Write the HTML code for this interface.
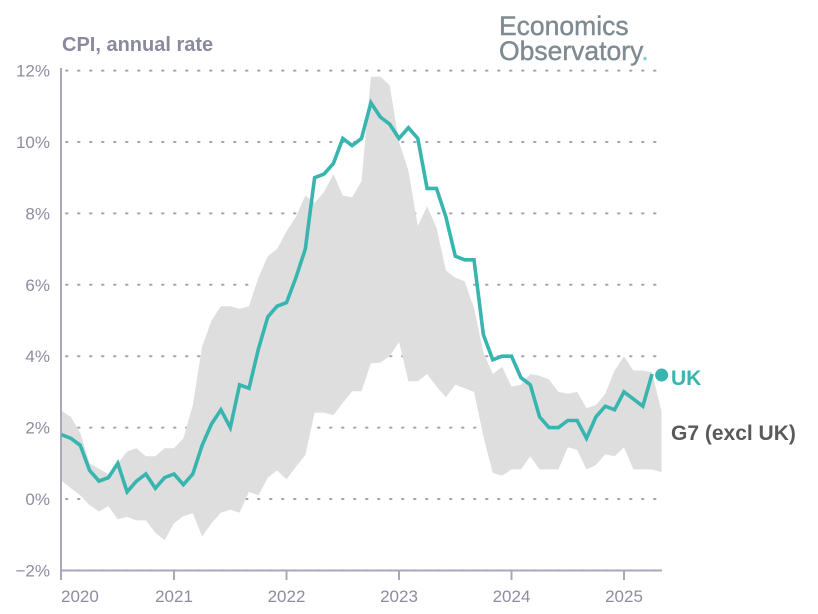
<!DOCTYPE html>
<html><head><meta charset="utf-8"><style>
html,body{margin:0;padding:0;background:#fff;}
svg{display:block;font-family:"Liberation Sans",sans-serif;}
</style></head><body>
<svg id="chart" width="818" height="614" viewBox="0 0 818 614">
<text x="62" y="51" font-size="20" font-weight="bold" fill="#8a899e">CPI, annual rate</text>
<g fill="#7f8b91" font-size="26.5">
<text x="499" y="35" stroke="#7f8b91" stroke-width="0.4">Economics</text>
<text x="499" y="60" stroke="#7f8b91" stroke-width="0.4">Observatory<tspan fill="#7ecbe0" stroke="#7ecbe0">.</tspan></text>
</g>
<g id="grid"></g>
<g id="band"></g>
<g id="axes"></g>
<g id="series"></g>
<text x="671" y="385" font-size="21" font-weight="bold" fill="#37b5ae">UK</text>
<text x="671" y="440" font-size="21" font-weight="bold" fill="#5a5a5a">G7 (excl UK)</text>
</svg>
<script>
const yTicks=[-2,0,2,4,6,8,10,12];
const yearLabels=["2020","2021","2022","2023","2024","2025"];
const ukValues=[1.8,1.7,1.5,0.8,0.5,0.6,1.0,0.2,0.5,0.7,0.3,0.6,
0.7,0.4,0.7,1.5,2.1,2.5,2.0,3.2,3.1,4.2,5.1,5.4,
5.5,6.2,7.0,9.0,9.1,9.4,10.1,9.9,10.1,11.1,10.7,10.5,
10.1,10.4,10.1,8.7,8.7,7.9,6.8,6.7,6.7,4.6,3.9,4.0,
4.0,3.4,3.2,2.3,2.0,2.0,2.2,2.2,1.7,2.3,2.6,2.5,
3.0,2.8,2.6,3.5];
const g7High=[2.47,2.3,1.85,1.0,0.85,0.7,1.0,1.33,1.42,1.2,1.2,1.42,
1.42,1.7,2.63,4.27,5.0,5.4,5.4,5.33,5.4,6.2,6.8,7.0,
7.5,7.9,8.5,8.3,8.6,9.1,8.5,8.45,8.9,11.83,11.83,11.6,
10.0,9.2,7.65,8.2,7.6,6.4,6.2,6.1,5.35,4.1,3.5,3.7,
3.15,3.2,3.5,3.45,3.35,3.0,2.95,3.0,2.55,2.63,2.95,3.6,
4.0,3.6,3.6,3.55,2.45];
const g7Low=[0.51,0.3,0.1,-0.17,-0.35,-0.2,-0.57,-0.5,-0.6,-0.6,-0.95,-1.15,
-0.68,-0.48,-0.4,-1.05,-0.68,-0.38,-0.3,-0.38,0.2,0.1,0.6,0.8,
0.55,0.9,1.23,2.42,2.42,2.35,2.69,3.02,3.02,3.8,3.82,4.0,
4.4,3.3,3.3,3.5,3.15,2.85,3.2,3.1,3.0,1.75,0.73,0.65,
0.83,0.83,1.2,0.83,0.83,0.83,1.45,1.38,0.83,0.95,1.25,1.2,
1.45,0.83,0.83,0.83,0.75];

const NS="http://www.w3.org/2000/svg";
const x0=61.5, perMonth=9.375;
const X=i=>x0+perMonth*i;
const Y=v=>499-35.7*v;
function mk(tag,attrs,parent){const e=document.createElementNS(NS,tag);for(const k in attrs)e.setAttribute(k,attrs[k]);parent.appendChild(e);return e;}
const grid=document.getElementById('grid'),axes=document.getElementById('axes'),band=document.getElementById('band'),series=document.getElementById('series');
yTicks.forEach(t=>{
  const l=mk('line',{x1:66,x2:660,y1:Y(t),y2:Y(t),stroke:'#a4a3b6','stroke-width':2,'stroke-dasharray':'1.5 10.5','stroke-linecap':'round'},grid);
  
  
  const tx=mk('text',{x:50,y:Y(t)+6,'text-anchor':'end','font-size':17,fill:'#8e8ca3'},axes);
  tx.textContent=(t<0?'\u2212'+(-t):t)+'%';
  
  
});
let d='';
g7High.forEach((v,i)=>{d+=(i?'L':'M')+X(i).toFixed(1)+' '+Y(v).toFixed(1);});
for(let i=g7Low.length-1;i>=0;i--){d+='L'+X(i).toFixed(1)+' '+Y(g7Low[i]).toFixed(1);}
const bp=mk('path',{d:d+'Z',fill:'#dedede'},band);


const ya=mk('line',{x1:61,x2:61,y1:68,y2:580,stroke:'#a9a8bb','stroke-width':2},axes);


const xa=mk('line',{x1:60,x2:662,y1:570.5,y2:570.5,stroke:'#a9a8bb','stroke-width':2},axes);


yearLabels.forEach((lab,k)=>{
  const x=X(12*k);
  if(k>0){const tk=mk('line',{x1:x,x2:x,y1:570,y2:580,stroke:'#a9a8bb','stroke-width':2},axes);
  
  }
  const t=mk('text',{x:k===0?61:x,y:602,'text-anchor':k===0?'start':'middle','font-size':17,fill:'#8e8ca3'},axes);
  t.textContent=lab;
  
  
});
const pts=ukValues.map((v,i)=>X(i).toFixed(1)+','+Y(v).toFixed(1)).join(' ');
const pl=mk('polyline',{points:pts,fill:'none',stroke:'#37b5ae','stroke-width':3.6,'stroke-linejoin':'miter'},series);


const last=ukValues.length-1;
const dot=mk('circle',{cx:X(last)+9.5,cy:Y(ukValues[last])+1,r:6.5,fill:'#37b5ae'},series);


</script>
</body></html>
